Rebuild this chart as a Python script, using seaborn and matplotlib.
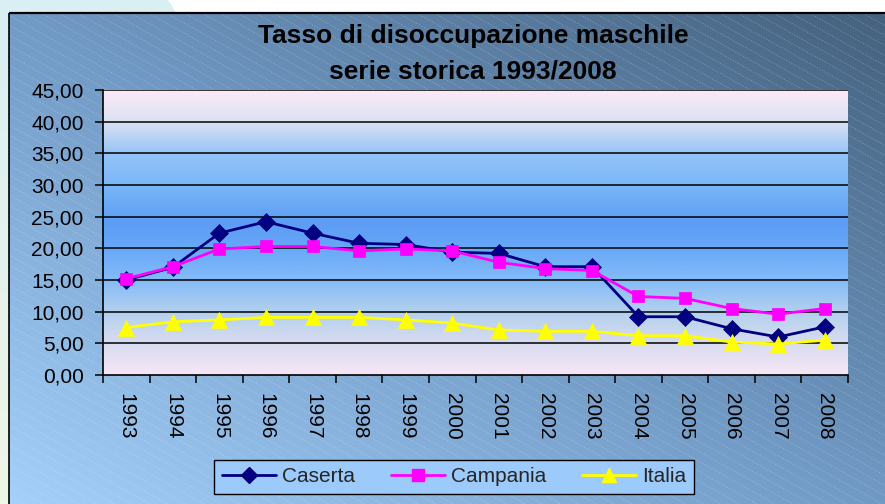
import numpy as np
import pandas as pd
import matplotlib
matplotlib.use("Agg")
import matplotlib.pyplot as plt
import seaborn as sns
from matplotlib.colors import LinearSegmentedColormap
from matplotlib.collections import LineCollection
from matplotlib.lines import Line2D
from matplotlib.patches import Rectangle, Polygon

# ---------------- data ----------------
years = ["1993", "1994", "1995", "1996", "1997", "1998", "1999", "2000",
         "2001", "2002", "2003", "2004", "2005", "2006", "2007", "2008"]
caserta = [15.0, 17.0, 22.4, 24.2, 22.4, 20.8, 20.6, 19.4,
           19.2, 17.1, 17.1, 9.2, 9.2, 7.3, 6.0, 7.6]
campania = [15.2, 17.1, 19.9, 20.3, 20.3, 19.6, 19.9, 19.6,
            17.8, 16.8, 16.5, 12.4, 12.1, 10.5, 9.6, 10.5]
italia = [7.5, 8.4, 8.7, 9.1, 9.1, 9.1, 8.7, 8.2,
          7.1, 6.9, 6.9, 6.2, 6.2, 5.2, 4.9, 5.5]
series_names = ["Caserta", "Campania", "Italia"]
y_ticks = [0, 5, 10, 15, 20, 25, 30, 35, 40, 45]
y_tick_labels = ["0,00", "5,00", "10,00", "15,00", "20,00",
                 "25,00", "30,00", "35,00", "40,00", "45,00"]
title = "Tasso di disoccupazione maschile\nserie storica 1993/2008"

df = pd.DataFrame({
    "x": list(range(len(years))) * 3,
    "value": caserta + campania + italia,
    "serie": sum([[n] * len(years) for n in series_names], []),
})

colors = {"Caserta": "#000080", "Campania": "#ff00ff", "Italia": "#ffff00"}
markers = {"Caserta": "D", "Campania": "s", "Italia": "^"}
msizes = {"Caserta": 9.5, "Campania": 9, "Italia": 11}

sns.set_theme(style="white")
plt.rcParams["font.family"] = ["Liberation Sans", "DejaVu Sans"]

W, H = 885, 504
fig = plt.figure(figsize=(W / 100, H / 100), dpi=100)
fig.patch.set_facecolor("#d9eff3")

# ---------------- background frame ----------------
bg = fig.add_axes([0, 0, 1, 1], zorder=-10)
bg.set_xlim(0, W)
bg.set_ylim(H, 0)
bg.axis("off")
# white top-right region
bg.add_patch(Polygon([[168, 0], [W, 0], [W, 13], [176, 13], [172, 6]],
                     closed=True, facecolor="white", edgecolor="none"))
# left strip greenish at bottom
strip = np.linspace(0, 1, 100).reshape(-1, 1)
strip_cmap = LinearSegmentedColormap.from_list("s", ["#d9eff3", "#eef6e6"])
bg.imshow(strip, cmap=strip_cmap, extent=[0, 9, H, 13], aspect="auto", zorder=0)

# diagonal gradient for chart frame
fx0, fy0 = 9, 13
xx, yy = np.meshgrid(np.linspace(fx0, W, 300), np.linspace(fy0, H, 200))
t = (xx / W) - (yy / H)
t = (t + 1) / 2
frame_cmap = LinearSegmentedColormap.from_list(
    "f", [(0.0, "#a4d0fa"), (0.5, "#7099c4"), (1.0, "#44607c")])
bg.imshow(t, cmap=frame_cmap, extent=[fx0, W, H, fy0], aspect="auto",
          zorder=1, vmin=0, vmax=1)
# diagonal hatch lines
segs = []
slope = 0.56
for c in np.arange(-600, 520, 10):
    x0, x1 = fx0, W
    segs.append([(x0, c + slope * x0), (x1, c + slope * x1)])
lc = LineCollection(segs, colors=(1, 1, 1, 0.22), linewidths=0.7,
                    linestyles=(0, (1.5, 1.5)), zorder=2)
bg.add_collection(lc)
clip = Rectangle((fx0, fy0), W - fx0, H - fy0, transform=bg.transData)
lc.set_clip_path(clip)
bg.plot([fx0, W], [fy0, fy0], color="black", lw=1.6, zorder=3, solid_capstyle="butt")
bg.plot([fx0, fx0], [fy0, H], color="black", lw=1.2, zorder=3, solid_capstyle="butt")

# ---------------- main axes ----------------
L, R, T, B = 103, 848, 90, 375
ax = fig.add_axes([L / W, 1 - B / H, (R - L) / W, (B - T) / H])
ax.set_facecolor("none")
n = len(years)
ax.set_xlim(-0.5, n - 0.5)
ax.set_ylim(0, 45)

stops = [(0.0, "#f6e6f6"), (5 / 45, "#d8dcf0"), (10 / 45, "#b2d0ee"),
         (15 / 45, "#84bbf8"), (20 / 45, "#68a8f8"), (24 / 45, "#5c9cf4"),
         (30 / 45, "#7ab6f8"), (35 / 45, "#94c4f8"), (40 / 45, "#dae2f2"),
         (1.0, "#fceaf8")]
plot_cmap = LinearSegmentedColormap.from_list("p", stops)
grad = np.linspace(0, 1, 256).reshape(-1, 1)
ax.imshow(grad, cmap=plot_cmap, extent=[-0.5, n - 0.5, 0, 45], origin="lower",
          aspect="auto", zorder=0, vmin=0, vmax=1)

for yv in y_ticks[1:]:
    ax.axhline(yv, color="black", lw=1.1, zorder=1)

for name in series_names:
    sub = df[df["serie"] == name]
    sns.lineplot(data=sub, x="x", y="value", ax=ax, color=colors[name],
                 marker=markers[name], markersize=msizes[name],
                 markeredgecolor=colors[name], markeredgewidth=0.5,
                 linewidth=2.0, legend=False, zorder=3)

ax.set_xlabel("")
ax.set_ylabel("")
for s in ["top", "right"]:
    ax.spines[s].set_visible(False)
for s in ["left", "bottom"]:
    ax.spines[s].set_color("black")
    ax.spines[s].set_linewidth(1.2)

ax.set_yticks(y_ticks)
ax.set_yticklabels(y_tick_labels, fontsize=15)
ax.tick_params(axis="y", direction="out", length=6, width=1.1, pad=8,
               colors="black", left=True)

ax.set_xticks(range(n))
ax.set_xticklabels(years, rotation=-90, fontsize=15, ha="center", va="top")
ax.tick_params(axis="x", which="major", length=0, pad=13, colors="black")
ax.set_xticks(np.arange(-0.5, n, 1.0), minor=True)
ax.tick_params(axis="x", which="minor", direction="out", length=6, width=1.1,
               bottom=True, colors="black")
ax.grid(False)

fig.text(473 / W, 1 - 54 / H, title, ha="center", va="center",
         fontsize=19, fontweight="bold", color="black", linespacing=1.6)

handles = [Line2D([0], [0], color=colors[nm], marker=markers[nm],
                  markersize=msizes[nm] - 1, markeredgecolor=colors[nm],
                  linewidth=2.0) for nm in series_names]
leg = fig.legend(handles, series_names, loc="center", ncol=3,
                 bbox_to_anchor=(454 / W, 1 - 477 / H), fontsize=15,
                 frameon=True, fancybox=False, handlelength=2.6,
                 handletextpad=0.3, columnspacing=1.7, borderpad=0.35)
leg.get_frame().set_facecolor("#9ccafa")
leg.get_frame().set_edgecolor("black")
leg.get_frame().set_linewidth(1.0)
leg.get_frame().set_alpha(1)

fig.savefig("out.png", dpi=100, facecolor=fig.get_facecolor())
